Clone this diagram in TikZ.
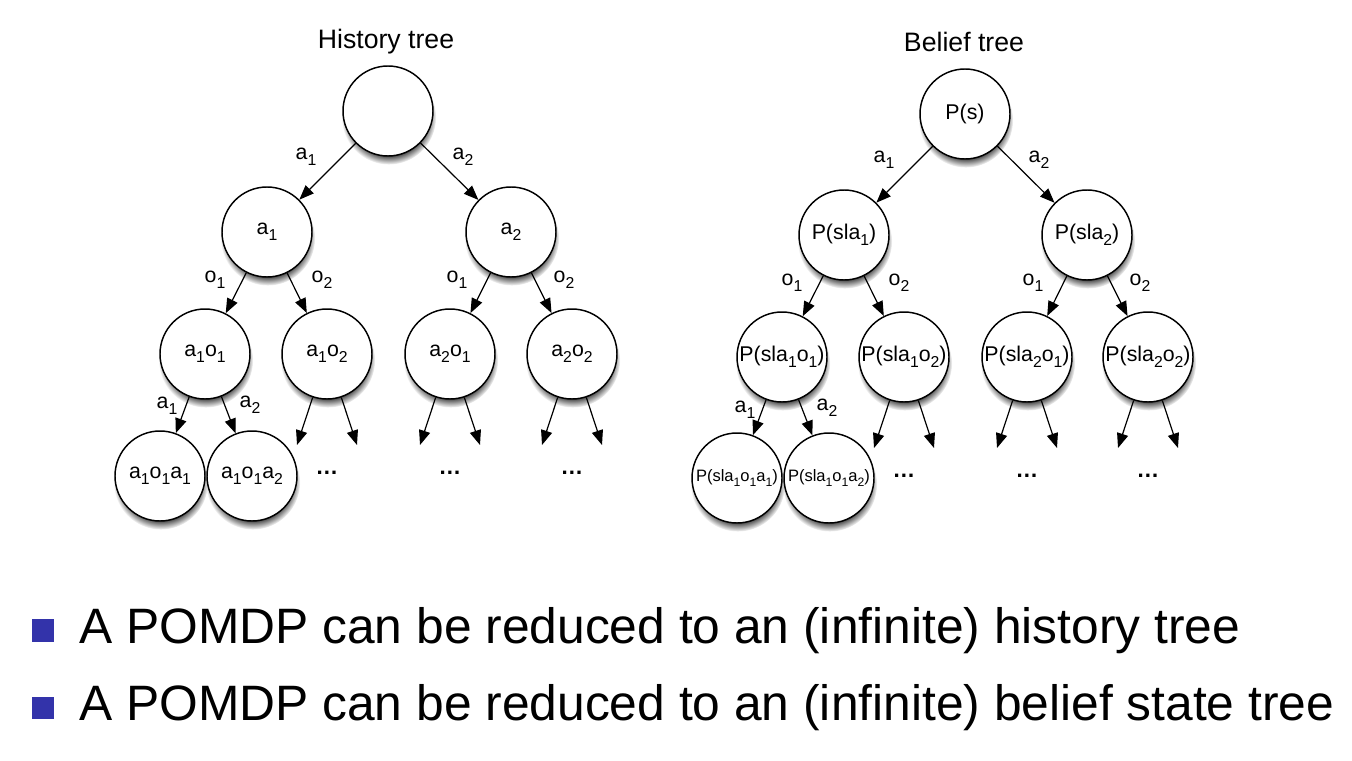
\documentclass[tikz,border=0pt]{standalone}
\usepackage{fontspec}
\setmainfont{Liberation Sans}
\usetikzlibrary{arrows.meta,shadows,fadings}
\definecolor{bulletblue}{RGB}{51,51,170}
% lowered, reduced index digit
\newcommand{\lo}[1]{\raisebox{-0.3em}{\scalebox{0.74}{#1}}}
\begin{document}
\begin{tikzpicture}[x=0.75pt,y=-0.75pt,
  state/.style={circle,draw=black,line width=1.1pt,fill=white,
    minimum size=67.5pt,inner sep=0pt,font=\fontsize{16}{18}\selectfont,
    circular drop shadow={shadow scale=1.05,shadow xshift=0.6pt,shadow yshift=-4.5pt,
      fill=black!75,path fading={circle with fuzzy edge 20 percent}}},
  small/.style={font=\fontsize{12.4}{14}\selectfont},
  edge/.style={line width=0.9pt,-{Triangle[length=11pt,width=8.5pt]}},
  elabel/.style={font=\fontsize{16}{18}\selectfont,inner sep=0pt},
  title/.style={font=\fontsize{20}{22}\selectfont,inner sep=0pt},
  more/.style={font=\bfseries\fontsize{17}{18}\selectfont,inner sep=0pt},
  bullet/.style={fill=bulletblue,draw=none},
  point/.style={font=\fontsize{37.3}{40}\selectfont,inner sep=0pt,anchor=base west}]
\useasboundingbox (0,0) rectangle (1352,760);

% ---------------- history tree ----------------
\node[title] (htitle) at (386,42) {History tree};
\node[state] (hr) at (388,111) {};
\node[state] (h1) at (267,232) {a\lo{1}};
\node[state] (h2) at (511,232) {a\lo{2}};
\node[state] (h11) at (205,354) {a\lo{1}o\lo{1}};
\node[state] (h12) at (327,354) {a\lo{1}o\lo{2}};
\node[state] (h21) at (450,354) {a\lo{2}o\lo{1}};
\node[state] (h22) at (572,354) {a\lo{2}o\lo{2}};
\node[state] (h111) at (160,476) {a\lo{1}o\lo{1}a\lo{1}};
\node[state] (h112) at (252,476) {a\lo{1}o\lo{1}a\lo{2}};

\draw[edge] (hr) -- (h1);
\draw[edge] (hr) -- (h2);
\draw[edge] (h1) -- (h11);
\draw[edge] (h1) -- (h12);
\draw[edge] (h2) -- (h21);
\draw[edge] (h2) -- (h22);
\draw[edge] (h11) -- (h111);
\draw[edge] (h11) -- (h112);

\node[elabel] (lh1) at (306,157) {a\lo{1}};
\node[elabel] (lh2) at (463,157) {a\lo{2}};
\node[elabel] (lh11) at (215,280) {o\lo{1}};
\node[elabel] (lh12) at (322,280) {o\lo{2}};
\node[elabel] (lh21) at (457,280) {o\lo{1}};
\node[elabel] (lh22) at (564,280) {o\lo{2}};
\node[elabel] (lh111) at (167,406) {a\lo{1}};
\node[elabel] (lh112) at (250,405) {a\lo{2}};

% open branches below the third level
\foreach \n/\x in {h12/327,h21/450,h22/572}{
  \coordinate (\n l) at (\x-30,445);
  \coordinate (\n r) at (\x+30,445);
  \draw[edge] (\n) -- (\n l);
  \draw[edge] (\n) -- (\n r);
  \node[more] (\n dots) at (\x,473) {…};
}

% ---------------- belief tree ----------------
\node[title] (btitle) at (964,42) {Belief tree};
\node[state] (br) at (965,114) {P(s)};
\node[state] (b1) at (844,235) {P(sla\lo{1})};
\node[state] (b2) at (1087,235) {P(sla\lo{2})};
\node[state] (b11) at (782,357) {P(sla\lo{1}o\lo{1})};
\node[state] (b12) at (904,357) {P(sla\lo{1}o\lo{2})};
\node[state] (b21) at (1027,357) {P(sla\lo{2}o\lo{1})};
\node[state] (b22) at (1148,357) {P(sla\lo{2}o\lo{2})};
\node[state,small] (b111) at (737,478) {P(sla\lo{1}o\lo{1}a\lo{1})};
\node[state,small] (b112) at (829,478) {P(sla\lo{1}o\lo{1}a\lo{2})};

\draw[edge] (br) -- (b1);
\draw[edge] (br) -- (b2);
\draw[edge] (b1) -- (b11);
\draw[edge] (b1) -- (b12);
\draw[edge] (b2) -- (b21);
\draw[edge] (b2) -- (b22);
\draw[edge] (b11) -- (b111);
\draw[edge] (b11) -- (b112);

\node[elabel] (lb1) at (884,160) {a\lo{1}};
\node[elabel] (lb2) at (1039,160) {a\lo{2}};
\node[elabel] (lb11) at (792,283) {o\lo{1}};
\node[elabel] (lb12) at (899,283) {o\lo{2}};
\node[elabel] (lb21) at (1033,283) {o\lo{1}};
\node[elabel] (lb22) at (1140,283) {o\lo{2}};
\node[elabel] (lb111) at (745,410) {a\lo{1}};
\node[elabel] (lb112) at (827,408) {a\lo{2}};

\foreach \n/\x in {b12/904,b21/1027,b22/1148}{
  \coordinate (\n l) at (\x-30,448);
  \coordinate (\n r) at (\x+30,448);
  \draw[edge] (\n) -- (\n l);
  \draw[edge] (\n) -- (\n r);
  \node[more] (\n dots) at (\x,476) {…};
}

% ---------------- bullet points ----------------
\fill[bullet] (32,619) rectangle (54,642);
\node[point] (p1) at (79,643) {A POMDP can be reduced to an (infinite) history tree};
\fill[bullet] (32,697) rectangle (54,719);
\node[point] (p2) at (79,720) {A POMDP can be reduced to an (infinite) belief state tree};
\end{tikzpicture}
\end{document}
